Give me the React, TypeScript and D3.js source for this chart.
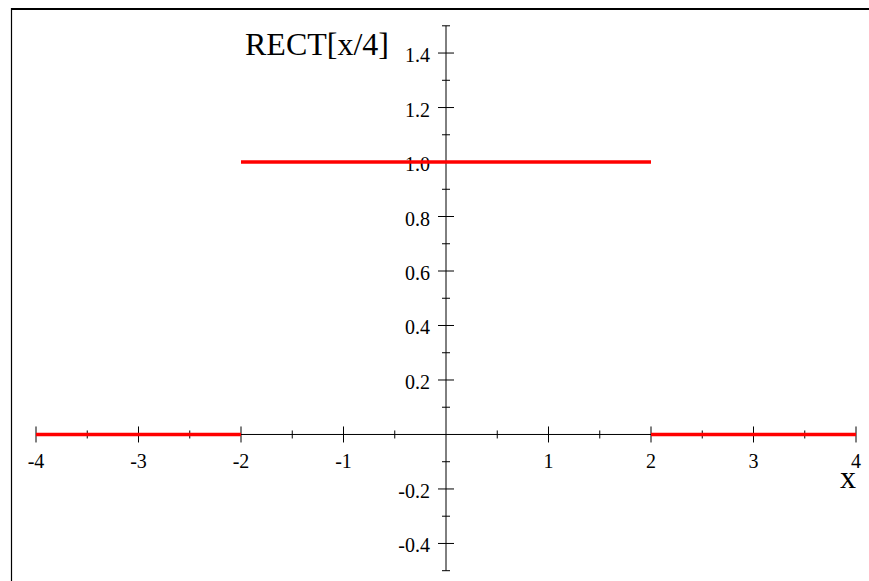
import React from "react";
import * as d3 from "d3";

// Piecewise rectangle function RECT[x/4] sampled at its breakpoints
const segments: { x0: number; x1: number; y: number }[] = [
  { x0: -4, x1: -2, y: 0 },
  { x0: -2, x1: 2, y: 1 },
  { x0: 2, x1: 4, y: 0 },
];

const xMajorTicks = [-4, -3, -2, -1, 1, 2, 3, 4];
const xMinorTicks = [-3.5, -2.5, -1.5, -0.5, 0.5, 1.5, 2.5, 3.5];
const yMajorTicks = [-0.4, -0.2, 0.2, 0.4, 0.6, 0.8, 1.0, 1.2, 1.4];
const yMinorTicks = [-0.5, -0.3, -0.1, 0.1, 0.3, 0.5, 0.7, 0.9, 1.1, 1.3, 1.5];

const W = 869;
const H = 581;

// plain hyphen-minus for negative tick labels
const fmt = (v: number) => d3.format(".1f")(v).replace("\u2212", "-");

export default function App() {
  const x = d3.scaleLinear().domain([-4, 4]).range([36, 856]);
  const y = d3.scaleLinear().domain([-0.5, 1.5]).range([570.7, 25.8]);
  const x0 = x(0);
  const y0 = y(0);
  const font = "'Liberation Serif', 'Times New Roman', serif";
  const line = d3.line<[number, number]>().x((d) => x(d[0])).y((d) => y(d[1]));

  return (
    <div style={{ position: "fixed", left: 0, top: 0 }}>
      <svg width={W} height={H} style={{ display: "block", background: "#fff" }}>
        {/* frame */}
        <line x1={11} y1={9} x2={W} y2={9} stroke="#000" strokeWidth={2} />
        <line x1={11.5} y1={8} x2={11.5} y2={H} stroke="#000" strokeWidth={1.2} />

        {/* axes */}
        <line x1={x(-4)} y1={y0} x2={x(4)} y2={y0} stroke="#000" strokeWidth={1} />
        <line x1={x0} y1={y(-0.5)} x2={x0} y2={y(1.5)} stroke="#000" strokeWidth={1} />

        {xMajorTicks.map((t) => (
          <line key={"xM" + t} x1={x(t)} x2={x(t)} y1={y0 - 8} y2={y0 + 8} stroke="#000" />
        ))}
        {xMinorTicks.map((t) => (
          <line key={"xm" + t} x1={x(t)} x2={x(t)} y1={y0 - 4} y2={y0 + 4} stroke="#000" />
        ))}
        {yMajorTicks.map((t) => (
          <line key={"yM" + t} x1={x0 - 8} x2={x0 + 8} y1={y(t)} y2={y(t)} stroke="#000" />
        ))}
        {yMinorTicks.map((t) => (
          <line key={"ym" + t} x1={x0 - 4} x2={x0 + 4} y1={y(t)} y2={y(t)} stroke="#000" />
        ))}

        {xMajorTicks.map((t) => (
          <text key={"xl" + t} x={x(t)} y={y0 + 33.4} textAnchor="middle" fontFamily={font} fontSize={20} fill="#000">
            {String(t)}
          </text>
        ))}
        {yMajorTicks.map((t) => (
          <text key={"yl" + t} x={x0 - 16} y={y(t) + 9} textAnchor="end" fontFamily={font} fontSize={20} fill="#000">
            {fmt(t)}
          </text>
        ))}

        {/* function */}
        {segments.map((s, i) => (
          <path
            key={"s" + i}
            d={line([[s.x0, s.y], [s.x1, s.y]]) ?? ""}
            stroke="#ff0000"
            strokeWidth={3.5}
            fill="none"
          />
        ))}

        <text x={245} y={55} fontFamily={font} fontSize={32} fill="#000">RECT[x/4]</text>
        <text x={856} y={488} textAnchor="end" fontFamily={font} fontSize={32} fill="#000">x</text>
      </svg>
    </div>
  );
}
